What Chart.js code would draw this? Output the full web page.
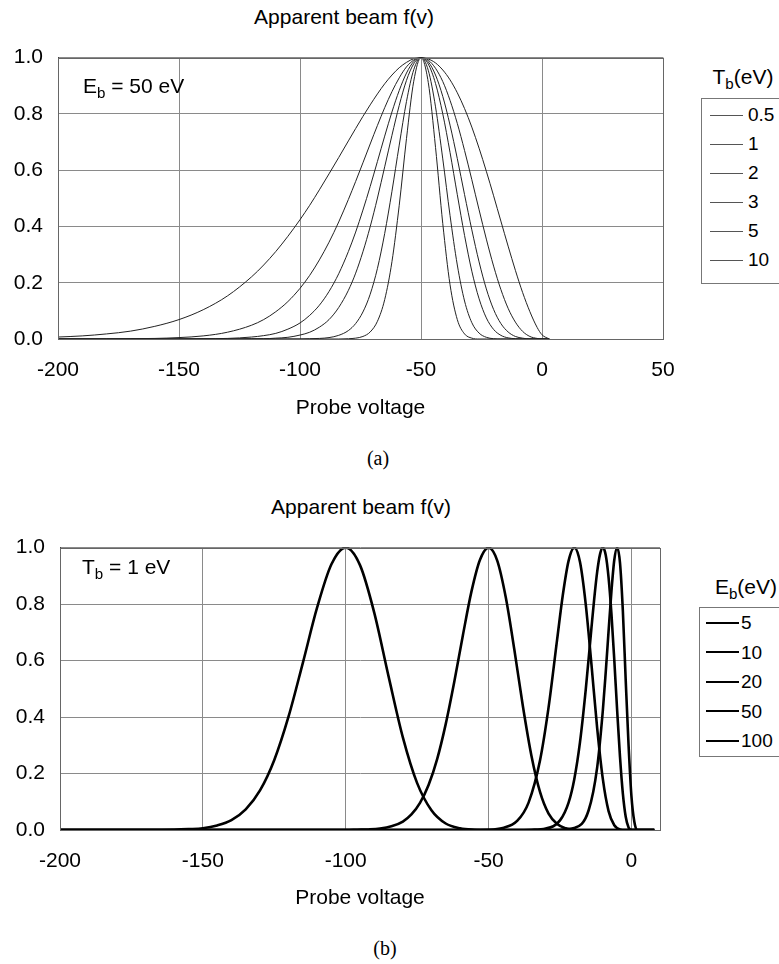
<!DOCTYPE html>
<html>
<head>
<meta charset="utf-8">
<script src="https://cdn.jsdelivr.net/npm/chart.js@4.4.1/dist/chart.umd.min.js"></script>
<style>
  html, body { margin: 0; padding: 0; background: #fff; }
  body { width: 779px; height: 964px; position: relative; overflow: hidden;
         font-family: "Liberation Sans", Arial, sans-serif; color: #000; }
  .txt { position: absolute; white-space: nowrap; line-height: 24px; font-size: 21px; }
  .ctr { transform: translateX(-50%); }
  .cap { font-family: "Liberation Serif", "Times New Roman", serif; font-size: 20px; }
  sub { font-size: 0.72em; vertical-align: -0.3em; line-height: 0; }
  .legend { position: absolute; border: 1px solid #777; border-right: none; box-sizing: border-box; width: 120px; background: #fff; }
  .legend .row { position: absolute; left: 0; height: 24px; line-height: 24px; font-size: 19px; }
  .legend .swatch { position: absolute; top: 12px; height: 0; }
  canvas { position: absolute; left: 0; }
</style>
</head>
<body>
<canvas id="chartA" width="700" height="410" style="top:30px"></canvas>
<canvas id="chartB" width="700" height="410" style="top:520px"></canvas>

<div class="txt ctr" style="left:344px; top:5px">Apparent beam f(v)</div>
<div class="txt" style="left:83px; top:74px">E<sub>b</sub> = 50 eV</div>
<div class="txt ctr" style="left:743px; top:65px">T<sub>b</sub>(eV)</div>
<div class="legend" id="legendA" style="left:701px; top:98px; height:186px"></div>
<div class="txt cap ctr" style="left:378px; top:446px">(a)</div>

<div class="txt ctr" style="left:361px; top:495px">Apparent beam f(v)</div>
<div class="txt" style="left:82px; top:555px">T<sub>b</sub> = 1 eV</div>
<div class="txt ctr" style="left:746px; top:575px">E<sub>b</sub>(eV)</div>
<div class="legend" id="legendB" style="left:699px; top:607px; height:150px"></div>
<div class="txt cap ctr" style="left:385px; top:936px">(b)</div>

<script>
// (a) E_b = 50 eV, different beam temperatures
const voltsA = [-200, -190, -180, -170, -160, -150, -140, -130, -120, -115, -110, -105, -100,
    -96, -92, -88, -84, -80, -77, -74, -71, -68, -65, -62, -59, -56, -53, -50,
    -47, -44, -41, -38, -35, -32, -29, -26, -23, -20, -17, -14, -11, -8, -5, -2, 0, 3];
const tb05 = [0, 0, 0, 0, 0, 0, 0, 0, 0, 0, 0, 0, 0,
    0, 0, 0, 0, 0.001, 0.003, 0.009, 0.025, 0.063, 0.140, 0.275, 0.475, 0.712, 0.916, 1.0,
    0.912, 0.681, 0.410, 0.193, 0.069, 0.018, 0.003, 0, 0, 0, 0, 0, 0, 0, 0, 0, 0, 0];
const tb1 = [0, 0, 0, 0, 0, 0, 0, 0, 0, 0, 0, 0, 0,
    0.001, 0.002, 0.005, 0.013, 0.030, 0.055, 0.096, 0.159, 0.251, 0.375, 0.525, 0.689, 0.844, 0.957, 1.0,
    0.955, 0.825, 0.640, 0.439, 0.263, 0.135, 0.058, 0.021, 0.006, 0.001, 0, 0, 0, 0, 0, 0, 0, 0];
const tb2 = [0, 0, 0, 0, 0, 0, 0, 0, 0.001, 0.001, 0.003, 0.006, 0.014,
    0.024, 0.042, 0.069, 0.112, 0.173, 0.234, 0.310, 0.399, 0.501, 0.612, 0.724, 0.830, 0.919, 0.978, 1.0,
    0.977, 0.908, 0.800, 0.663, 0.513, 0.368, 0.241, 0.143, 0.075, 0.034, 0.013, 0.004, 0.001, 0, 0, 0, 0, 0];
const tb3 = [0, 0, 0, 0, 0, 0, 0.001, 0.002, 0.007, 0.012, 0.020, 0.035, 0.057,
    0.084, 0.120, 0.169, 0.232, 0.311, 0.380, 0.458, 0.542, 0.631, 0.721, 0.807, 0.883, 0.945, 0.986, 1.0,
    0.985, 0.938, 0.862, 0.760, 0.641, 0.513, 0.388, 0.274, 0.178, 0.105, 0.055, 0.025, 0.009, 0.003, 0, 0, 0, 0];
const tb5 = [0, 0, 0, 0.001, 0.002, 0.005, 0.011, 0.024, 0.049, 0.069, 0.097, 0.133, 0.180,
    0.226, 0.281, 0.344, 0.416, 0.496, 0.560, 0.626, 0.693, 0.759, 0.822, 0.879, 0.928, 0.967, 0.991, 1.0,
    0.991, 0.962, 0.915, 0.848, 0.766, 0.670, 0.566, 0.459, 0.355, 0.259, 0.176, 0.109, 0.060, 0.027, 0.009, 0.002, 0, 0];
const tb10 = [0.007, 0.011, 0.018, 0.028, 0.045, 0.069, 0.104, 0.153, 0.221, 0.263, 0.311, 0.365, 0.424,
    0.475, 0.530, 0.587, 0.645, 0.704, 0.748, 0.791, 0.832, 0.871, 0.907, 0.938, 0.964, 0.983, 0.996, 1.0,
    0.995, 0.981, 0.956, 0.921, 0.875, 0.819, 0.753, 0.678, 0.596, 0.509, 0.419, 0.330, 0.244, 0.165, 0.097, 0.041, 0.015, 0];
const tbLabels = ['0.5', '1', '2', '3', '5', '10'];

// (b) T_b = 1 eV, different beam energies
const voltsE5 = [-200, -30, -25, -20, -15, -12, -10, -9, -8, -7, -6, -5, -4, -3, -2, -1, 0, 1, 2, 8];
const fE5 = [0, 0, 0.001, 0.007, 0.069, 0.221, 0.424, 0.558, 0.704, 0.845, 0.956, 1.0, 0.946, 0.776, 0.530, 0.300, 0.120, 0.030, 0, 0];
const voltsE10 = [-200, -40, -35, -30, -25, -22, -20, -18, -16, -14, -13, -12, -11, -10, -9, -8, -7, -6, -5, -4, -3, -2, -1, 0, 8];
const fE10 = [0, 0, 0.001, 0.005, 0.034, 0.097, 0.180, 0.311, 0.496, 0.715, 0.821, 0.913, 0.976, 1.0, 0.974, 0.894, 0.766, 0.602, 0.424, 0.259, 0.129, 0.047, 0.009, 0, 0];
const voltsE20 = [-200, -60, -50, -45, -40, -36, -32, -29, -26, -24, -22, -20, -18, -16, -14, -12, -10, -8, -6, -4, -2, 0, 8];
const fE20 = [0, 0, 0.001, 0.007, 0.032, 0.097, 0.246, 0.434, 0.675, 0.833, 0.953, 1.0, 0.949, 0.800, 0.587, 0.362, 0.180, 0.067, 0.017, 0.002, 0, 0, 0];
const voltsE50 = [-200, -100, -96, -92, -88, -84, -80, -77, -74, -71, -68, -65, -62, -59, -56, -53, -50,
    -47, -44, -41, -38, -35, -32, -29, -26, -23, -20, -17, 0, 8];
const fE50 = [0, 0, 0.001, 0.002, 0.005, 0.013, 0.030, 0.055, 0.096, 0.159, 0.251, 0.375, 0.525, 0.689, 0.844, 0.957, 1.0,
    0.955, 0.825, 0.640, 0.439, 0.263, 0.135, 0.058, 0.021, 0.006, 0.001, 0, 0, 0];
const voltsE100 = [-200, -180, -170, -160, -155, -150, -145, -140, -135, -130, -125, -120, -115, -110, -105, -100,
    -95, -90, -85, -80, -75, -70, -65, -60, -55, -50, -40, 0, 8];
const fE100 = [0, 0, 0, 0.001, 0.003, 0.006, 0.016, 0.035, 0.073, 0.140, 0.248, 0.402, 0.592, 0.788, 0.941, 1.0,
    0.938, 0.769, 0.544, 0.328, 0.166, 0.070, 0.023, 0.006, 0.001, 0, 0, 0, 0];
const ebLabels = ['5', '10', '20', '50', '100'];

const yTicks = [0, 0.2, 0.4, 0.6, 0.8, 1.0];
const xTicks = [-200, -150, -100, -50, 0, 50];

const axisFont = { family: "'Liberation Sans', Arial, sans-serif", size: 21 };
const gridColor = '#8a8a8a';

function points(xs, ys) {
    return xs.map((x, i) => ({ x: x, y: ys[i] }));
}

// box around the plot area (right edge has no tick in (b))
const plotBorder = {
    id: 'plotBorder',
    afterDatasetsDraw(chart) {
        const a = chart.chartArea;
        const c = chart.ctx;
        c.save();
        c.strokeStyle = '#666';
        c.lineWidth = 1;
        c.strokeRect(Math.round(a.left) + 0.5, Math.round(a.top) + 0.5,
            Math.round(a.right - a.left), Math.round(a.bottom - a.top));
        c.restore();
    }
};

function makeChart(id, datasets, xMax, plotLeft, plotRight, plotHeight) {
    const canvas = document.getElementById(id);
    return new Chart(canvas, {
        type: 'line',
        data: { datasets: datasets },
        options: {
            responsive: false,
            animation: false,
            layout: { padding: { left: 0, right: canvas.width - plotRight, top: 19, bottom: 0 } },
            plugins: {
                legend: { display: false },
                title: { display: false },
                tooltip: { enabled: false }
            },
            elements: {
                point: { radius: 0 },
                line: { cubicInterpolationMode: 'monotone' }
            },
            scales: {
                x: {
                    type: 'linear',
                    min: -200,
                    max: xMax,
                    afterBuildTicks: s => {
                        s.ticks = xTicks.filter(v => v <= xMax).map(v => ({ value: v }));
                    },
                    afterFit: s => { s.height = canvas.height - 19 - plotHeight; },
                    ticks: { padding: 19, font: axisFont, color: '#000', maxRotation: 0, autoSkip: false },
                    grid: { color: gridColor, drawTicks: false },
                    border: { color: '#444' },
                    title: {
                        display: true, text: 'Probe voltage', font: axisFont, color: '#000',
                        padding: { top: 0, bottom: 19 }
                    }
                },
                y: {
                    min: 0,
                    max: 1,
                    afterBuildTicks: s => { s.ticks = yTicks.map(v => ({ value: v })); },
                    afterFit: s => { s.width = plotLeft; },
                    ticks: { padding: 15, font: axisFont, color: '#000', callback: v => v.toFixed(1) },
                    grid: { color: gridColor, drawTicks: false },
                    border: { color: '#444' }
                }
            }
        },
        plugins: [plotBorder]
    });
}

const seriesA = [tb05, tb1, tb2, tb3, tb5, tb10];
makeChart('chartA', seriesA.map((ys, i) => ({
    label: tbLabels[i],
    data: points(voltsA, ys),
    borderColor: '#222',
    borderWidth: 1,
    fill: false
})), 50, 58, 663, 290);

const seriesB = [[voltsE5, fE5], [voltsE10, fE10], [voltsE20, fE20], [voltsE50, fE50], [voltsE100, fE100]];
makeChart('chartB', seriesB.map((s, i) => ({
    label: ebLabels[i],
    data: points(s[0], s[1]),
    borderColor: '#000',
    borderWidth: 2.6,
    fill: false
})), 10, 60, 660, 291);

// HTML legends
function buildLegend(id, labels, firstRow, step, swLeft, swWidth, textLeft, lineW, lineColor) {
    const box = document.getElementById(id);
    labels.forEach((lab, i) => {
        const row = document.createElement('div');
        row.className = 'row';
        row.style.top = (firstRow + i * step - 12) + 'px';
        row.style.width = '110px';
        const sw = document.createElement('div');
        sw.className = 'swatch';
        sw.style.left = swLeft + 'px';
        sw.style.width = swWidth + 'px';
        sw.style.borderTop = lineW + 'px solid ' + lineColor;
        sw.style.marginTop = (-lineW / 2) + 'px';
        const t = document.createElement('span');
        t.style.position = 'absolute';
        t.style.left = textLeft + 'px';
        t.textContent = lab;
        row.appendChild(sw);
        row.appendChild(t);
        box.appendChild(row);
    });
}
buildLegend('legendA', tbLabels, 16, 29, 8, 33, 46, 1, '#555');
buildLegend('legendB', ebLabels, 15, 29.5, 6, 33, 41, 2.6, '#000');
</script>
</body>
</html>
